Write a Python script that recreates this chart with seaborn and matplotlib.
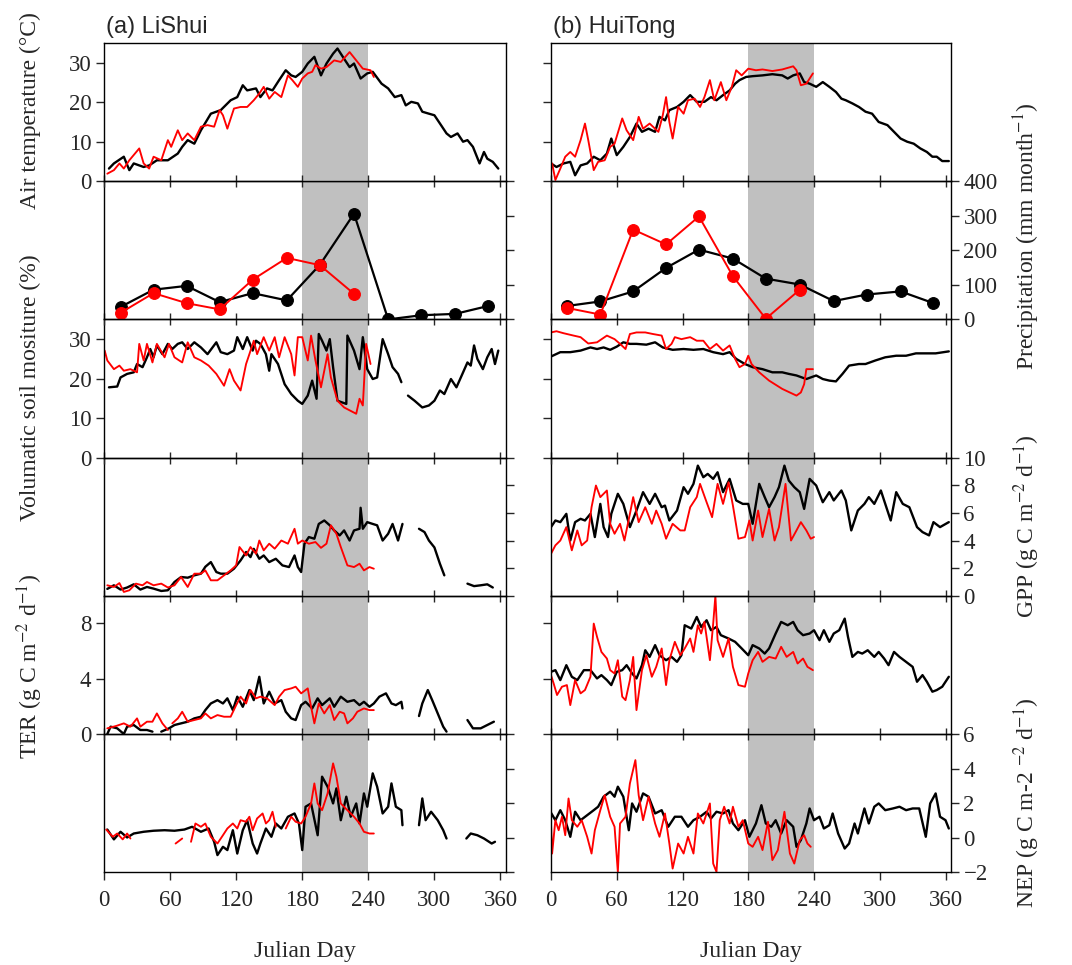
import numpy as np
import pandas as pd
import matplotlib
matplotlib.use("Agg")
import matplotlib.pyplot as plt
import seaborn as sns

nan = np.nan

# ---------------- data (Julian day, value) ----------------
# (a) LiShui
ls_temp_b_day = [4.5,9,18,23,27,36,41,48,58,67,71,76,82,88,97,106,115,121,126,130,138,142,148,153,159,165,170,174,180,185,191,197,202,208,212,218,223,227,233,239,244,252,258,264,270,274,279,285,289,295,300,306,311,315,321,326,330,335,341,345,348,353,358]
ls_temp_b = [3.2,4.5,6.2,2.8,4.5,3.6,4,5.3,5.3,7,8.7,10.4,9.5,12.9,17.1,18,20.5,21.3,24.3,23,23.5,21.3,23.5,23,25.6,28.1,26.8,26.4,27.7,29.8,31.5,26.8,29.8,32.3,33.6,31,28.9,29.8,26,27.3,27.7,24.7,23.5,21.3,21.8,19.2,20.1,19.7,17.6,17.1,16.7,14.2,12.1,11.2,12.1,10,10.4,8.7,4.5,7.4,5.7,4.9,3.2]
ls_temp_r_day = [3,9,14,18,23,32,36,41,45,52,58,61,67,71,76,82,88,94,100,105,108,112,118,124,130,136,141,145,150,155,161,167,171,176,180,185,189,192,197,202,209,215,223,229,235,242,245]
ls_temp_r = [1.9,2.8,4.5,3.2,5.3,8.3,4.5,3.2,6.2,5.3,10.4,8.7,12.9,10.4,12.1,10.4,13.8,14.2,13.8,18,16.7,13.3,18.4,18.8,18.8,20.5,22.2,23.9,20.9,22.6,21.3,26.8,25.6,23.9,26,27.3,27.7,29.4,28.5,28.9,30.6,30.2,32.7,30.6,28.5,28.1,26.4]

month_day = [15,45,75,105,135,166,196,227,258,288,319,349]
ls_prec_b = [36,86,97,50,76,55,158,306,0,12,16,39]
ls_prec_r = [19,76,47,29,115,178,157,74]

ls_sm_b_day = [4.5,12,15,21,27,30,35,39,42,45,48,53,58,62,67,71,76,82,88,94,102,106,112,118,121,126,130,135,138,142,147,150,152,158,164,170,176,180,185,189,193,195,198,202,205,208,212,220,221,227,232,235,239,244,248,253,258,262,267,270,273,276,282,289,295,300,305,309,315,320,324,330,333,336,339,344,348,352,355,358]
ls_sm_b = [17.8,18,20.3,21.2,21.6,23.7,22.9,25.4,27.5,25.4,28.4,26.2,28.8,27.5,28.8,29.2,27.5,29.2,27.9,26.2,29.2,26.7,26.2,27.1,30.5,27.5,30.5,27.1,29.6,28.8,26.2,22,26.2,23.7,18.6,16.1,14.4,13.6,15.7,19.5,14.9,31.3,29.6,27.1,30,22.9,14.4,13.6,30.9,27.1,22.4,30.5,22.4,19.9,20.3,30,26.2,22.9,21.2,19.1,nan,15.7,14.4,12.7,13.2,14.4,17,16.1,19.9,17.8,20.3,24.1,23.3,28.4,25,22.4,25.4,27.5,23.7,27.1]
ls_sm_r_day = [0.6,3,9,14,18,24,30,32,36,39,44,48,55,59,64,71,76,82,88,95,102,109,114,118,124,129,132,136,139,145,150,155,159,164,170,173,176,180,185,188,192,197,203,206,212,218,229,232,235,238,242]
ls_sm_r = [27.1,24.6,22.4,23.3,22,22.4,21.6,28.8,24.6,28.8,24.1,28.8,25.4,28.8,25.4,24.1,29.2,25.4,24.6,23.3,21.2,18.2,22.4,19.5,17,23.7,26.2,29.6,26.2,30.5,27.1,30.5,25.4,30.5,26.2,20.8,30.5,30.5,24.6,30.9,24.6,17.8,26.2,20.3,14.4,12.7,11.1,14.9,13.2,28.8,23.7]

ls_gpp_b_day = [3,9,15,21,27,33,39,45,52,58,64,70,76,82,88,92,97,102,106,112,118,124,129,133,136,141,145,150,156,162,168,173,176,179,182,186,191,195,200,205,209,214,218,223,227,232,233,235,239,244,248,253,258,262,267,271,278,286,291,295,300,305,309,320,330,336,342,348,353]
ls_gpp_b = [0.5,0.76,0.45,0.6,0.83,0.45,0.64,0.52,0.35,0.4,1,1.36,1.31,1.48,1.6,2.1,2.44,1.72,1.6,1.6,1.96,2.56,3.17,2.8,3.4,2.68,2.92,2.44,2.68,2.2,2.08,2.92,2.08,1.72,3.77,4.25,4.13,5.2,5.45,5.1,4.73,4.37,4.73,4,4.73,4.85,6.37,4.85,5.33,5.2,5.1,4,4.49,5.2,4,5.2,nan,4.85,4.61,4,3.5,2.32,1.48,nan,0.88,0.7,0.76,0.83,0.6]
ls_gpp_r_day = [3,9,14,18,23,29,35,39,45,52,58,64,70,76,82,88,92,97,103,109,115,120,123,129,133,138,141,145,150,155,161,167,173,176,180,186,192,197,202,206,211,215,221,227,232,236,241,245]
ls_gpp_r = [0.76,0.64,0.92,0.28,0.4,0.88,0.76,1,0.76,0.88,0.6,0.76,1.36,0.64,1.6,1.6,1.84,1.12,1.12,1.48,1.84,2.2,3.53,2.92,3.53,3.05,4,3.29,3.77,3.41,4,3.77,4.85,3.77,4,3.77,3.89,3.47,3.77,5.1,4.49,3.53,2.2,2.08,2.32,1.84,2.08,1.96]

ls_ter_b_day = [3,6,12,18,21,27,33,39,44,47,52,59,64,70,76,82,88,92,97,103,108,112,117,121,126,132,136,141,145,150,155,161,165,170,174,179,183,189,194,198,205,209,215,221,227,232,236,241,245,250,256,261,265,270,271,278,286,289,294,298,303,308,311,320,330,335,342,348,354]
ls_ter_b = [0,0.53,0.41,0,0.53,0.65,0.29,0.29,0.17,nan,0.17,0.41,0.65,0.77,0.89,1.13,1.25,1.73,2.21,2.45,2.21,2.58,1.73,2.7,1.97,3.18,2.45,4.14,2.21,3.06,2.21,2.45,1.61,1.13,1.01,2.09,2.33,1.85,2.58,2.09,2.58,1.97,2.7,2.33,2.45,2.09,2.33,1.97,2.21,2.7,2.94,2.21,2.09,2.33,1.85,nan,1.3,2.21,3.18,2.45,1.49,0.53,0.17,nan,1.01,0.41,0.41,0.65,0.89]
ls_ter_r_day = [3,11,18,24,30,33,39,44,48,53,58,60,62,67,71,76,82,88,92,97,103,109,115,120,124,129,133,138,142,148,155,159,164,170,174,179,185,188,191,195,200,205,209,214,218,221,226,230,236,241,245]
ls_ter_r = [0.41,0.58,0.77,0.53,1.13,0.53,0.89,0.89,1.49,0.77,0.29,nan,0.77,1.13,1.61,0.89,1.01,1.13,1.49,1.13,1.37,1.25,1.25,2.09,2.7,2.21,3.18,2.58,2.7,2.58,2.09,2.7,3.18,3.3,3.42,2.94,3.3,1.97,0.77,2.21,1.49,2.09,1.01,1.61,1.49,0.77,1.13,1.61,1.85,1.73,1.73]

ls_nep_b_day = [3,9,15,21,27,36,45,55,64,73,80,88,95,100,103,108,112,117,121,126,130,135,139,142,147,152,156,161,167,173,177,180,183,188,194,198,203,208,211,215,220,224,229,232,236,239,244,248,253,258,261,265,270,271,278,286,289,292,297,303,308,311,320,329,333,339,345,352,355]
ls_nep_b = [0.47,-0.1,0.34,0.01,0.24,0.34,0.4,0.43,0.4,0.47,0.63,0.34,0.53,-0.24,-1.01,-0.53,-0.72,0.43,-0.92,0.43,1.01,-0.34,-0.92,-0.34,0.53,0.05,0.82,0.53,1.21,1.4,0.82,-0.72,1.79,1.98,0.14,3.53,2.95,1.98,2.85,1.01,2.37,1.21,1.98,0.82,2.56,1.79,3.72,2.95,1.4,1.79,3.14,1.79,1.59,0.72,nan,0.72,2.27,1.01,1.5,1.01,0.43,-0.05,nan,-0.05,0.24,0.14,-0.05,-0.34,-0.24]
ls_nep_r_day = [2,8,12,17,21,24,40,65,71,75,79,83,88,92,97,103,108,112,117,121,124,129,132,135,139,144,147,150,153,156,160,165,170,174,179,183,188,191,194,198,203,208,211,215,221,227,232,236,241,245]
ls_nep_r = [0.47,0.05,0.24,-0.1,0.24,-0.05,nan,-0.34,-0.05,nan,-0.24,0.82,0.63,0.82,0.05,-0.34,0.14,0.53,0.82,0.53,1.01,0.92,1.21,0.43,1.11,1.4,0.82,1.01,1.5,0.63,nan,0.53,1.21,0.92,0.82,1.21,1.98,3.14,1.98,1.59,2.56,4.3,3.53,1.98,1.59,1.21,0.82,0.34,0.24,0.24]

# (b) HuiTong
ht_temp_b_day = [0,5,11.5,17.6,22,27,33,39,45,51,55,60,66,72,78,83,89,95,99,104,108,115,121,127,133,140,146,151,157,163,168,172,178,184,193,202,211,216,221,227,231,236,242,248,254,260,265,269,275,281,287,293,299,307,313,319,325,331,337,343,348,352,357,363]
ht_temp_b = [4.5,3.6,4.5,4.9,1.5,4,4.5,6.2,5.3,7,10.8,6.6,8.7,11.2,14.6,12.5,13.3,12.5,16.3,15.4,18,18.8,20.1,21.8,20.1,20.1,21.3,20.5,21.8,23,24.7,25.6,26.4,26.6,26.8,27.1,26.8,26,26.8,27.3,25.1,24.7,23.9,25.1,23.9,22.6,20.9,20.5,19.7,18.8,17.6,17.1,15,14.2,12.5,10.8,10,9.5,8.3,7.4,6.2,6.2,5.1,5.1]
ht_temp_r_day = [1,4,8.5,13,17.6,22,27,31,34,39,43,49,54,58,65,69,75,80,84,90,98,102,105,108,111,116,121,125,131,136,140,145,149,155,160,165,169,174,180,187,193,202,211,221,224,228,233,239]
ht_temp_r = [4.5,0.3,3.2,6.2,7.4,6.2,10.4,14.6,10.4,2.8,4.9,5.3,8.7,9.5,15.9,12.9,10.4,16.3,13.3,14.6,12.5,16.7,21.3,15,10.8,18.8,17.1,20.5,20.9,18.8,21.3,25.6,20.5,25.1,20.5,23.9,28.1,26.8,28.5,28.1,28.3,27.9,28.3,29.1,28.1,24.3,24.7,27.3]

ht_prec_b = [39,52,81,149,202,176,118,101,53,72,81,47]
ht_prec_r = [33,14,260,217,298,125,2,86]

ht_sm_b_day = [0,8.5,17.6,27,36,42,48,54,60,66,72,78,87,95,102,111,121,130,139,148,157,163,169,177,184,193,202,211,217,224,233,242,248,254,260,266,272,281,287,296,305,315,324,333,342,351,363]
ht_sm_b = [25.6,26.7,26.7,27.1,27.9,27.5,27.9,27.3,28.1,29.2,28.8,28.8,28.6,29.2,27.9,27.3,27.5,27.3,27.5,26.7,26.2,26.7,25,23.7,22.9,22.4,21.6,21.6,21.2,20.8,19.9,20.8,19.9,19.5,19.3,21.2,23.3,23.7,23.7,24.6,25.4,25.8,25.8,26.4,26.4,26.4,26.9]
ht_sm_r_day = [0,5,11.5,20.6,27,34,42,51,58,63,68,72,78,86,93,101,105,110,113,119,127,133,139,145,151,157,163,168,172,177,180,183,190,199,211,224,228,231,233,239]
ht_sm_r = [31.7,32,31.5,30.9,30.5,28.9,29.2,30.9,30,28.8,27.5,31.3,31.7,31.7,31.3,30.9,27.5,28.8,30.5,30,30.5,29.6,29.6,27.5,28.8,27.1,28.4,25,22.9,23.7,25.8,23.7,21.6,19.5,17.4,15.7,16.5,18.6,22.4,22.4]

ht_gpp_b_day = [0,4,8.5,14,17.6,22,27,31,36,40,45,48,52,55,61,66,72,78,84,90,95,101,104,108,115,121,125,130,134,139,143,148,152,157,163,169,175,180,184,190,195,199,204,208,213,217,222,227,231,236,242,248,254,258,265,269,274,280,286,290,295,301,305,310,315,321,327,334,339,345,349,355,363]
ht_gpp_b = [4.97,5.45,5.33,5.93,4,5.33,5.57,5.45,5.93,4.25,6.65,4.97,4.25,5.93,7.38,6.65,4.97,6.17,7.5,6.65,7.38,6.41,6.53,5.45,6.17,7.86,7.38,8.1,9.42,8.58,8.82,8.46,8.94,7.5,8.46,6.9,6.65,6.65,5.21,8.1,7.14,6.41,7.14,7.86,9.42,8.34,7.86,7.5,6.29,8.46,7.98,6.77,7.5,6.9,7.62,6.9,4.73,6.17,6.65,7.14,6.65,7.62,6.65,5.45,7.5,6.65,6.41,4.97,4.61,4.37,5.33,4.97,5.33]
ht_gpp_r_day = [0,4,8.5,14,19,24,28,33,37,41,45,51,54,58,63,67,72,75,80,86,92,96,101,105,111,118,122,127,133,136,142,147,152,157,162,166,171,177,181,184,189,193,199,204,208,214,219,224,228,233,237,240]
ht_gpp_r = [3.04,3.65,4,4.97,3.29,4.73,3.65,4,6.41,7.98,7.14,7.62,5.21,4.49,5.21,4,5.93,7.14,5.33,6.41,5.21,6.17,5.21,4.13,5.21,4.73,4.73,6.41,7.14,8.1,6.77,5.69,8.1,6.65,8.22,6.53,4.13,4.25,5.45,4,6.17,4.25,6.29,4,4.97,8.1,4,4.73,5.33,4.73,4.13,4.25]

ht_ter_b_day = [0,4,8.5,14,19,24,30,36,42,46,51,55,60,65,69,74,78,83,86,90,95,99,105,110,115,119,122,128,133,137,142,146,151,155,162,168,174,180,184,190,195,199,205,210,216,221,225,230,236,240,245,249,254,258,263,268,271,275,280,284,289,295,299,304,308,313,318,324,330,334,339,343,348,352,357,360,363]
ht_ter_b = [4.5,4.62,3.9,4.98,4.14,3.9,4.62,4.62,4.02,4.26,3.9,3.54,4.5,4.62,4.98,4.38,4.02,4.98,6.06,5.58,6.43,5.7,5.34,5.58,5.22,5.7,7.87,7.63,8.47,7.75,8.23,7.51,7.75,7.15,6.91,6.67,6.19,5.7,6.43,6.19,5.82,6.19,7.27,8.11,7.87,8.11,7.51,7.15,7.27,7.51,6.79,7.51,6.67,7.27,7.51,8.35,7.03,5.58,5.94,5.82,6.06,5.58,5.94,5.46,4.98,5.94,5.58,5.22,4.86,3.78,4.26,3.78,3.06,3.18,3.42,3.78,4.14]
ht_ter_r_day = [0,2.4,5.5,10,14.5,17.6,22,27,31,36,39,42,46,51,54,58,61,65,68,72,75,78,83,87,92,96,101,105,108,113,118,122,127,130,134,137,140,145,148,150,152,157,162,166,171,177,180,184,189,193,199,205,210,215,221,225,230,234,239]
ht_ter_r = [4.26,3.66,2.82,3.42,3.54,2.09,3.9,2.94,3.18,4.14,7.99,7.03,5.94,5.46,4.62,4.38,5.34,2.7,2.45,3.9,5.58,1.73,4.62,5.7,4.14,4.86,6.19,3.54,5.34,6.67,5.7,6.19,6.91,5.94,7.87,7.27,8.11,5.34,7.99,10,6.79,5.58,6.91,4.86,3.54,3.42,4.38,5.34,5.94,5.22,5.58,5.46,6.31,5.58,5.94,5.1,5.46,4.86,4.62]

ht_nep_b_day = [0,4,8.5,13,17.6,22,27,33,39,43,48,54,58,61,66,71,74,78,84,89,95,101,107,113,119,125,130,136,142,146,151,157,162,166,171,177,181,187,192,196,201,205,210,215,221,224,228,233,236,240,245,249,254,257,262,268,272,277,280,286,290,295,299,305,312,318,324,330,336,342,346,351,355,360,363]
ht_nep_b = [1.44,1.01,1.59,1.01,0.05,1.5,1.01,1.3,1.59,1.79,2.37,2.66,2.37,2.95,2.37,0.43,1.98,1.5,2.56,2.37,1.4,1.59,0.63,1.21,1.21,0.63,1.01,1.21,1.5,1.11,1.5,1.4,1.59,0.82,0.43,1.01,0.05,0.82,1.88,0.82,0.63,1.01,0.24,1.01,0.63,-0.53,-0.14,0.82,1.69,1.01,1.21,0.53,0.72,1.4,0.24,-0.63,-0.34,0.82,0.24,1.69,0.82,1.79,1.98,1.59,1.69,1.79,1.59,1.69,1.69,0.05,1.98,2.56,1.21,1.01,0.53]
ht_nep_r_day = [0,1,4,7,10,13,16,19,24,28,33,37,40,45,49,54,58,61,63,68,72,77,80,84,89,95,99,104,108,111,116,121,125,130,134,139,145,148,151,154,158,163,166,171,175,180,184,189,193,198,202,207,213,218,222,227,231,234,237]
ht_nep_r = [0.82,-0.92,1.01,0.43,1.21,0.14,2.27,1.01,0.63,1.01,0.05,-0.92,0.43,1.59,2.46,1.21,0.63,-1.98,0.82,1.21,3.14,4.49,2.46,1.01,2.37,0.82,0.05,1.4,-0.34,-1.79,-0.34,-0.92,0.05,-0.92,1.4,0.82,1.98,-1.5,-1.98,1.01,1.79,0.82,1.79,0.63,1.01,-0.34,-0.53,0.05,-0.72,0.92,-1.3,-0.72,1.5,-0.92,-1.5,-0.14,0.14,-0.34,-0.53]

x_ticks = [0, 60, 120, 180, 240, 300, 360]
row_ylims = [(0, 35), (0, 400), (0, 35), (0, 10), (0, 10), (-2, 6)]
row_yticks = [[0, 10, 20, 30], [0, 100, 200, 300, 400], [0, 10, 20, 30],
              [0, 2, 4, 6, 8, 10], [0, 4, 8], [-2, 0, 2, 4, 6]]
left_labels = {0: "Air temperature (°C)", 2: "Volumatic soil mositure (%)",
               4: "TER (g C m$^{-2}$ d$^{-1}$)"}
right_labels = {1: "Precipitation (mm month$^{-1}$)", 3: "GPP (g C m$^{-2}$ d$^{-1}$)",
                5: "NEP (g C m-2 $^{-2}$ d$^{-1}$)"}
titles = ["(a) LiShui", "(b) HuiTong"]

# ---------------- style ----------------
sns.set_style("ticks")
plt.rcParams['font.family'] = ['Liberation Serif', 'DejaVu Serif']
plt.rcParams['mathtext.fontset'] = 'stix'
plt.rcParams['axes.linewidth'] = 1.0

W, H = 1072, 965
fig = plt.figure(figsize=(W / 100, H / 100), dpi=100)

col_x = [(104, 402), (551, 400)]
top, rowh = 43, 138.2

RED = '#ff0000'
BLACK = '#000000'
TICKFS = 16.5
LABFS = 17


def draw(ax, days, vals, color, lw, marker=None):
    d = np.asarray(days, float)
    v = np.asarray(vals, float)
    seg = np.cumsum(np.isnan(v))
    df = pd.DataFrame({'day': d, 'val': v, 'seg': seg}).dropna()
    kw = {}
    if marker:
        kw = dict(marker='o', markersize=8.5, markeredgecolor=color, markerfacecolor=color)
    sns.lineplot(data=df, x='day', y='val', units='seg', estimator=None, sort=False,
                 color=color, lw=lw, ax=ax, legend=False, **kw)


series = {
    0: [(ls_temp_b_day, ls_temp_b, ls_temp_r_day, ls_temp_r),
        (ht_temp_b_day, ht_temp_b, ht_temp_r_day, ht_temp_r)],
    1: [(month_day, ls_prec_b, month_day[:len(ls_prec_r)], ls_prec_r),
        (month_day, ht_prec_b, month_day[:len(ht_prec_r)], ht_prec_r)],
    2: [(ls_sm_b_day, ls_sm_b, ls_sm_r_day, ls_sm_r),
        (ht_sm_b_day, ht_sm_b, ht_sm_r_day, ht_sm_r)],
    3: [(ls_gpp_b_day, ls_gpp_b, ls_gpp_r_day, ls_gpp_r),
        (ht_gpp_b_day, ht_gpp_b, ht_gpp_r_day, ht_gpp_r)],
    4: [(ls_ter_b_day, ls_ter_b, ls_ter_r_day, ls_ter_r),
        (ht_ter_b_day, ht_ter_b, ht_ter_r_day, ht_ter_r)],
    5: [(ls_nep_b_day, ls_nep_b, ls_nep_r_day, ls_nep_r),
        (ht_nep_b_day, ht_nep_b, ht_nep_r_day, ht_nep_r)],
}

for c in range(2):
    x0, w = col_x[c]
    for r in range(6):
        b = H - (top + rowh * (r + 1))
        ax = fig.add_axes([x0 / W, b / H, w / W, rowh / H])
        ax.axvspan(180, 240, color='#c0c0c0', lw=0, zorder=0)
        bd, bv, rd, rv = series[r][c]
        if r == 1:
            draw(ax, bd, bv, BLACK, 1.6, marker=True)
            draw(ax, rd, rv, RED, 1.4, marker=True)
        else:
            draw(ax, bd, bv, BLACK, 1.7)
            draw(ax, rd, rv, RED, 1.35)
        ax.set_xlim(0, 365)
        ax.set_ylim(*row_ylims[r])
        ax.set_xticks(x_ticks)
        ax.set_yticks(row_yticks[r])
        ax.set_xlabel('')
        ax.set_ylabel('')
        for s in ax.spines.values():
            s.set_linewidth(1.0)
            s.set_color('black')
        on_left = (r % 2 == 0)
        show_lab = (c == 0 and on_left) or (c == 1 and not on_left)
        ax.tick_params(axis='y', direction='out', length=6, width=1.0, labelsize=TICKFS,
                       left=on_left, right=not on_left,
                       labelleft=on_left and show_lab, labelright=(not on_left) and show_lab,
                       pad=3)
        bottom = (r == 5)
        ax.tick_params(axis='x', direction='out' if bottom else 'inout',
                       length=6 if bottom else 9, width=1.0, labelsize=TICKFS,
                       labelbottom=bottom, pad=7)
        if bottom:
            ax.set_xticklabels([str(t) for t in x_ticks])
        ax.set_zorder(10 - r)
        ax.patch.set_alpha(0)

# y labels
for r, txt in left_labels.items():
    yc = {0: 111, 2: 388, 4: 667}[r]
    fig.text(30 / W, 1 - yc / H, txt, rotation=90, ha='center', va='center', fontsize=LABFS)
for r, txt in right_labels.items():
    yc = {1: 236, 3: 526, 5: 803}[r]
    fig.text(1027 / W, 1 - yc / H, txt, rotation=90, ha='center', va='center', fontsize=LABFS)

# titles
for c, t in enumerate(titles):
    fig.text((col_x[c][0] + 2) / W, 1 - 33 / H, t, ha='left', va='baseline',
             fontsize=17, family=['Liberation Sans', 'DejaVu Sans'])

# x labels
for c in range(2):
    x0, w = col_x[c]
    fig.text((x0 + w / 2) / W, 1 - 952 / H, "Julian Day", ha='center', va='center', fontsize=LABFS)

fig.savefig("out.png", dpi=100)
